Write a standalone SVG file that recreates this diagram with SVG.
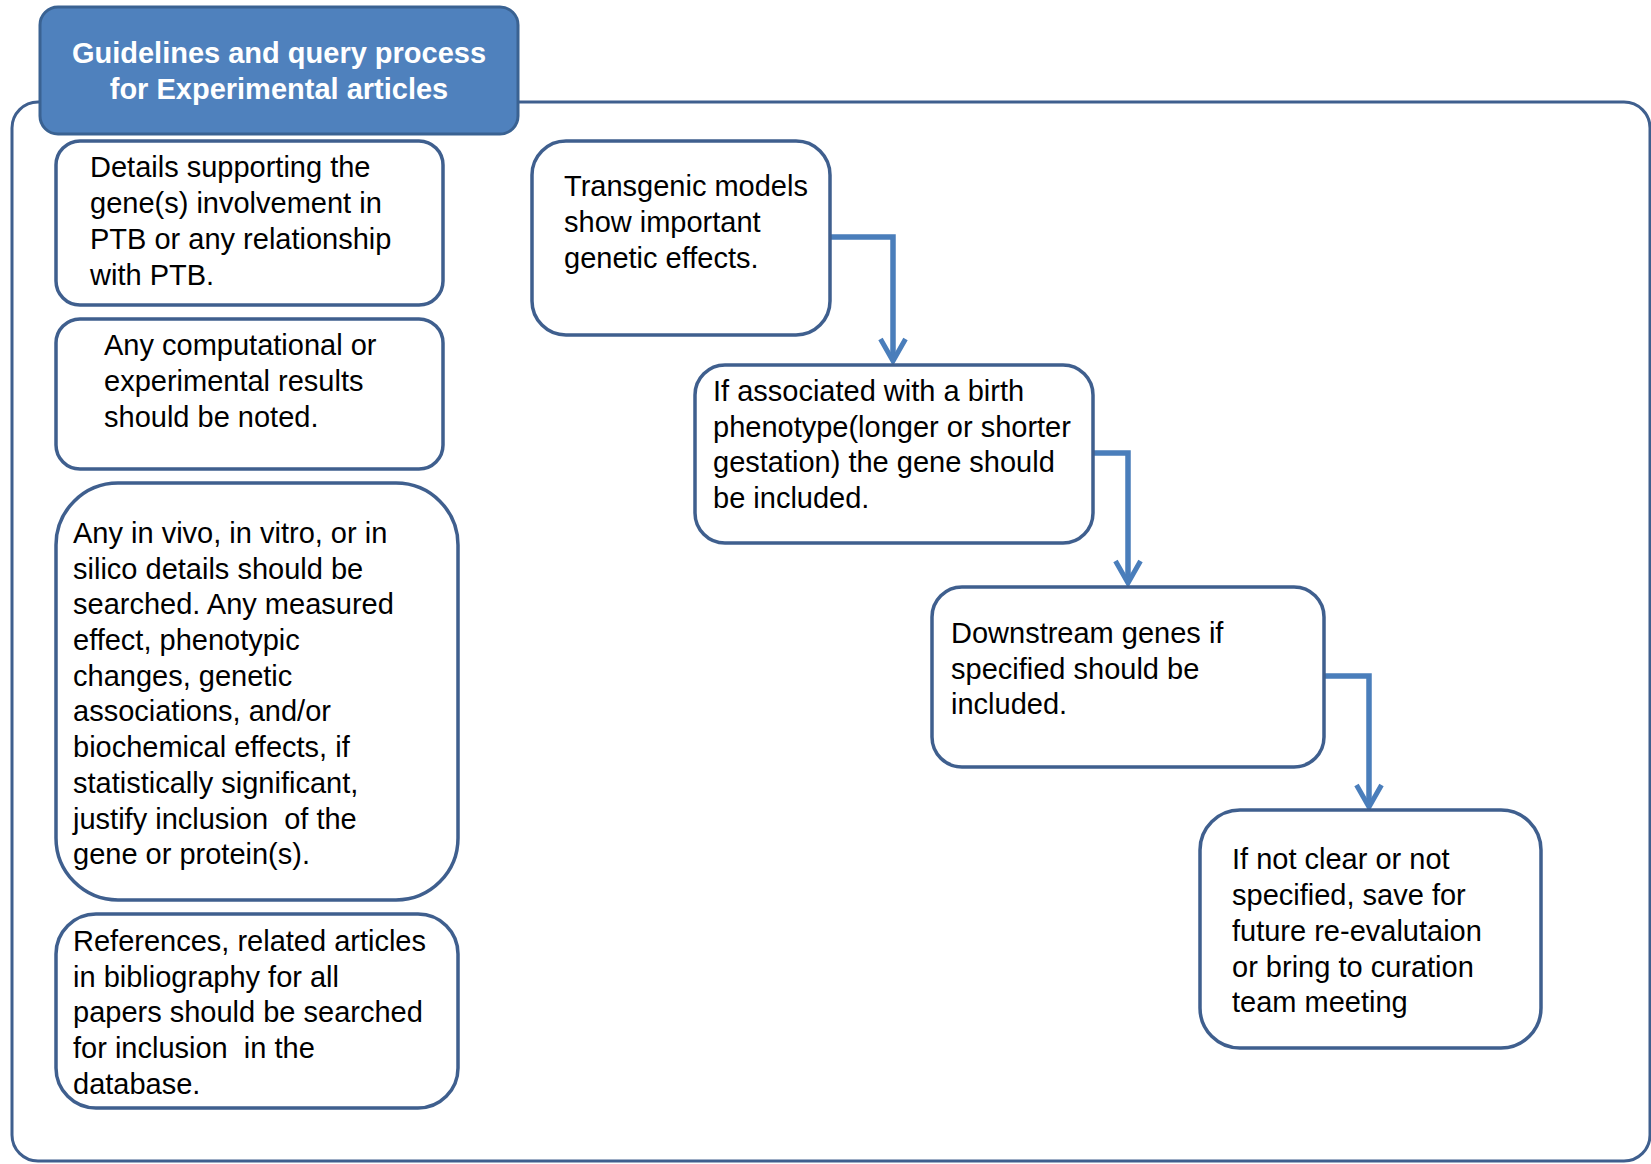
<svg xmlns="http://www.w3.org/2000/svg" width="1651" height="1164" viewBox="0 0 1651 1164">
<style>
.bg{fill:#ffffff}
.frame{fill:#ffffff;stroke:#3f5f8e;stroke-width:3}
.box{fill:#ffffff;stroke:#3f5f8e;stroke-width:3.5}
.title{fill:#4f81bd;stroke:#3a6292;stroke-width:3}
.t{font-family:"Liberation Sans",Arial,sans-serif;font-size:29px;fill:#000000}
.tt{font-family:"Liberation Sans",Arial,sans-serif;font-size:29px;font-weight:bold;fill:#ffffff;text-anchor:middle}
.conn{fill:none;stroke:#4a7ebb;stroke-width:5.5;marker-end:url(#arr)}
</style>
<defs>
<marker id="arr" markerUnits="userSpaceOnUse" viewBox="-3 -3 30 31" markerWidth="30" markerHeight="31" refX="22" refY="12.5" orient="auto">
<path d="M0,0 L22,12.5 L0,25" fill="none" stroke="#4a7ebb" stroke-width="5" stroke-linejoin="miter"/>
</marker>
</defs>
<rect class="bg" x="0" y="0" width="1651" height="1164"/>
<g id="container">
<rect class="frame" x="12" y="102" width="1638" height="1059" rx="26" ry="26"/>
</g>
<g id="title">
<rect class="title" x="40" y="7" width="478" height="127" rx="18" ry="18"/>
<text class="tt" x="279" y="63">Guidelines and query process</text>
<text class="tt" x="279" y="99">for Experimental articles</text>
</g>
<g id="connectors">
<path class="conn" d="M830,237 H893 V361"/>
<path class="conn" d="M1093,453 H1128 V583"/>
<path class="conn" d="M1324,676 H1369 V807"/>
</g>
<g id="node-details">
<rect class="box" x="56" y="141" width="387" height="164" rx="24" ry="24"/>
<text class="t" x="90" y="177">Details supporting the</text>
<text class="t" x="90" y="213">gene(s) involvement in</text>
<text class="t" x="90" y="249">PTB or any relationship</text>
<text class="t" x="90" y="285">with PTB.</text>
</g>
<g id="node-computational">
<rect class="box" x="56" y="319" width="387" height="150" rx="24" ry="24"/>
<text class="t" x="104" y="355">Any computational or</text>
<text class="t" x="104" y="391">experimental results</text>
<text class="t" x="104" y="427">should be noted.</text>
</g>
<g id="node-invivo">
<rect class="box" x="56" y="483" width="402" height="417" rx="62" ry="62"/>
<text class="t" x="73" y="543">Any in vivo, in vitro, or in</text>
<text class="t" x="73" y="579">silico details should be</text>
<text class="t" x="73" y="614">searched. Any measured</text>
<text class="t" x="73" y="650">effect, phenotypic</text>
<text class="t" x="73" y="686">changes, genetic</text>
<text class="t" x="73" y="721">associations, and/or</text>
<text class="t" x="73" y="757">biochemical effects, if</text>
<text class="t" x="73" y="793">statistically significant,</text>
<text class="t" x="73" y="829" xml:space="preserve">justify inclusion  of the</text>
<text class="t" x="73" y="864">gene or protein(s).</text>
</g>
<g id="node-references">
<rect class="box" x="56" y="914" width="402" height="194" rx="40" ry="40"/>
<text class="t" x="73" y="951">References, related articles</text>
<text class="t" x="73" y="987">in bibliography for all</text>
<text class="t" x="73" y="1022">papers should be searched</text>
<text class="t" x="73" y="1058" xml:space="preserve">for inclusion  in the</text>
<text class="t" x="73" y="1094">database.</text>
</g>
<g id="node-transgenic">
<rect class="box" x="532" y="141" width="298" height="194" rx="34" ry="34"/>
<text class="t" x="564" y="196">Transgenic models</text>
<text class="t" x="564" y="232">show important</text>
<text class="t" x="564" y="268">genetic effects.</text>
</g>
<g id="node-associated">
<rect class="box" x="695" y="365" width="398" height="178" rx="30" ry="30"/>
<text class="t" x="713" y="401">If associated with a birth</text>
<text class="t" x="713" y="437">phenotype(longer or shorter</text>
<text class="t" x="713" y="472">gestation) the gene should</text>
<text class="t" x="713" y="508">be included.</text>
</g>
<g id="node-downstream">
<rect class="box" x="932" y="587" width="392" height="180" rx="30" ry="30"/>
<text class="t" x="951" y="643">Downstream genes if</text>
<text class="t" x="951" y="679">specified should be</text>
<text class="t" x="951" y="714">included.</text>
</g>
<g id="node-unclear">
<rect class="box" x="1200" y="810" width="341" height="238" rx="40" ry="40"/>
<text class="t" x="1232" y="869">If not clear or not</text>
<text class="t" x="1232" y="905">specified, save for</text>
<text class="t" x="1232" y="941">future re-evalutaion</text>
<text class="t" x="1232" y="977">or bring to curation</text>
<text class="t" x="1232" y="1012">team meeting</text>
</g>
</svg>
